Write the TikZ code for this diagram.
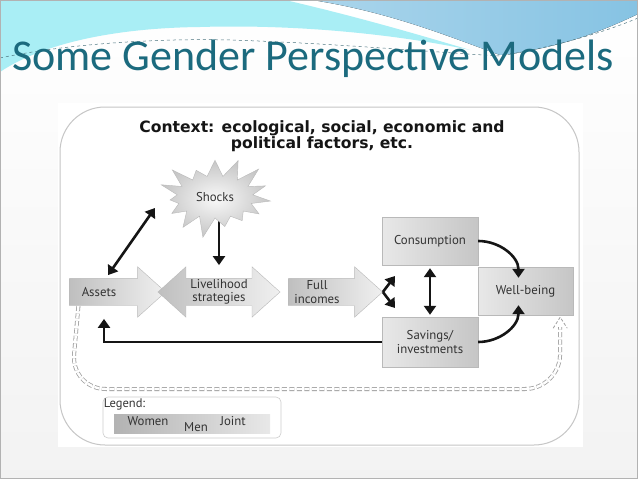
\documentclass[tikz,border=0pt]{standalone}
\usepackage{fontspec}
\setmainfont{PT Sans}
\newfontfamily\titlefont{Carlito}
\newfontfamily\headfont{DejaVu Sans}
\usetikzlibrary{arrows.meta,shapes.arrows,shapes.symbols,calc,backgrounds}
\pgfdeclarelayer{behind}
\pgfsetlayers{background,behind,main}
\definecolor{titleteal}{HTML}{1B6A7E}
\definecolor{aqua}{HTML}{A9EEF5}
\definecolor{skyband}{HTML}{86C3E3}
\definecolor{ink}{HTML}{151515}
\definecolor{txt}{HTML}{333333}

\begin{document}
\begin{tikzpicture}[x=1pt,y=-1pt,
  flow/.style={ink,line width=2.6pt,-{Triangle[length=9pt,width=12pt]}},
  twoway/.style={ink,line width=2.6pt,{Triangle[length=9pt,width=12pt]}-{Triangle[length=9pt,width=12pt]}},
  blk/.style={draw=gray!55,line width=0.4pt,left color=gray!50,right color=gray!12,
              inner xsep=0pt,inner ysep=13.5pt},
  box/.style={draw=gray!55,line width=0.4pt,left color=gray!18,right color=gray!45,
              align=center,font=\fontsize{12.8}{14}\selectfont,text=txt},
  lbl/.style={align=center,font=\fontsize{12.8}{13.5}\selectfont,text=txt},
  dbl/.style={gray!75,double,double distance=2.4pt,line width=0.8pt,dash pattern=on 5pt off 2.5pt}]
\useasboundingbox (0,0) rectangle (638,479);

% slide and banner
\begin{pgfonlayer}{background}
\fill[top color=white,bottom color=gray!10] (0,0) rectangle (638,479);
\fill[aqua] (0,0) -- (285,0) .. controls (350,15) and (410,32) .. (470,50)
  .. controls (400,35) and (300,24) .. (200,27) .. controls (110,28) and (40,45) .. (0,72) -- cycle;
\fill[left color=skyband!70,right color=skyband] (312,0) -- (638,0) -- (638,14)
  .. controls (600,32) and (560,48) .. (500,55) .. controls (450,37) and (390,12) .. (312,0) -- cycle;
\draw[titleteal!50!gray,line width=0.5pt,dashed] (0,58) .. controls (60,45) and (150,38) .. (230,40)
  .. controls (330,43) and (430,52) .. (500,56) .. controls (560,46) and (610,30) .. (638,18);
\draw[gray!60,line width=1pt] (0.5,0.5) rectangle (637.5,478);
\fill[white] (58,103) rectangle (583,447);
\draw[gray!45,line width=1pt,rounded corners=45pt] (60,107) rectangle (579,445);
\end{pgfonlayer}

\node[anchor=base west,inner sep=0pt,text=titleteal,font=\titlefont\fontsize{44}{48}\selectfont]
  (title) at (12,70) {Some Gender Perspective Models};

\node[align=center,font=\headfont\fontsize{15.6}{14.5}\selectfont\bfseries,text=ink] (context) at (322,136)
  {Context: ecological, social, economic and\\ political factors, etc.};

% main blocks
\node[starburst,starburst points=15,starburst point height=22pt,random starburst=21,
      minimum width=120pt,minimum height=86pt,inner color=gray!5,outer color=gray!45,
      draw=gray!55,line width=0.4pt] (shocks) at (215,197) {};
\node[lbl] (shocks-t) at (shocks.center) {Shocks};

\node[blk,single arrow,single arrow head extend=11.5pt,single arrow tip angle=84,
      minimum height=96pt] (assets) at (110,292) {};
\node[lbl] (assets-t) at ($(assets.center)+(-11,0)$) {Assets};

\node[blk,double arrow,double arrow head extend=11.5pt,double arrow tip angle=84,
      minimum height=122pt] (livel) at (219,292) {};
\node[lbl] (livel-t) at (livel.center) {Livelihood\\strategies};

\node[blk,single arrow,single arrow head extend=11.5pt,single arrow tip angle=84,
      minimum height=94pt] (income) at (328,292) {};
\node[lbl] (income-t) at ($(income.center)+(-11,0)$) {Full\\incomes};

\node[box,minimum width=96pt,minimum height=48pt] (consum) at (430,241) {Consumption};
\node[box,minimum width=96pt,minimum height=50pt] (savings) at (430,342) {Savings/\\investments};
\node[box,minimum width=95pt,minimum height=48pt] (wellb) at (525.5,291) {Well-being};

\coordinate (forkup) at (395,276);
\coordinate (forkdn) at (395,308);

% links
\begin{pgfonlayer}{behind}
\draw[flow,shorten >=13pt] (shocks.center -| livel.north) -- (livel.north);
\end{pgfonlayer}
\draw[twoway] ($(assets.north)+(-2,-3)$) -- ($(shocks.center)+(-60,11)$);
\draw[flow] (income.tip) -- (forkup);
\draw[flow] (income.tip) -- (forkdn);
\draw[twoway,shorten <=3pt,shorten >=2pt] (consum.south) -- (savings.north);
\draw[flow] (consum.east) to[out=0,in=90] ($(wellb.north)+(-7,11)$);
\draw[flow] (savings.east) to[out=0,in=-90] ($(wellb.south)+(-7,-10)$);
\draw[flow] (savings.west) -| ($(assets.south)+(-6,13)$);
\draw[dbl,rounded corners=35pt] ($(assets.west)+(9,14)$) -- (71,389) -- (560,389)
  -- ($(wellb.south east)+(-13,12)$);
\draw[gray!75,line width=0.8pt,densely dashed] ($(wellb.south east)+(-20,13)$)
  -- ($(wellb.south east)+(-13,2)$) -- ($(wellb.south east)+(-6,13)$);

% legend
\node[draw=gray!40,line width=0.6pt,rounded corners=5pt,minimum width=178pt,minimum height=41pt]
  (legend) at (192,417.5) {};
\node[anchor=west,inner sep=0pt,font=\fontsize{12.5}{13}\selectfont,text=txt] (legend-t)
  at ($(legend.west)+(1,-13)$) {Legend:};
\node[left color=gray!60,right color=gray!18,minimum width=156pt,minimum height=19pt,inner sep=0pt]
  (legbar) at (192,423.5) {};
\node[lbl] (women) at (148,421) {Women};
\node[lbl] (men) at (196,427) {Men};
\node[lbl] (joint) at (233,421) {Joint};
\end{tikzpicture}
\end{document}
